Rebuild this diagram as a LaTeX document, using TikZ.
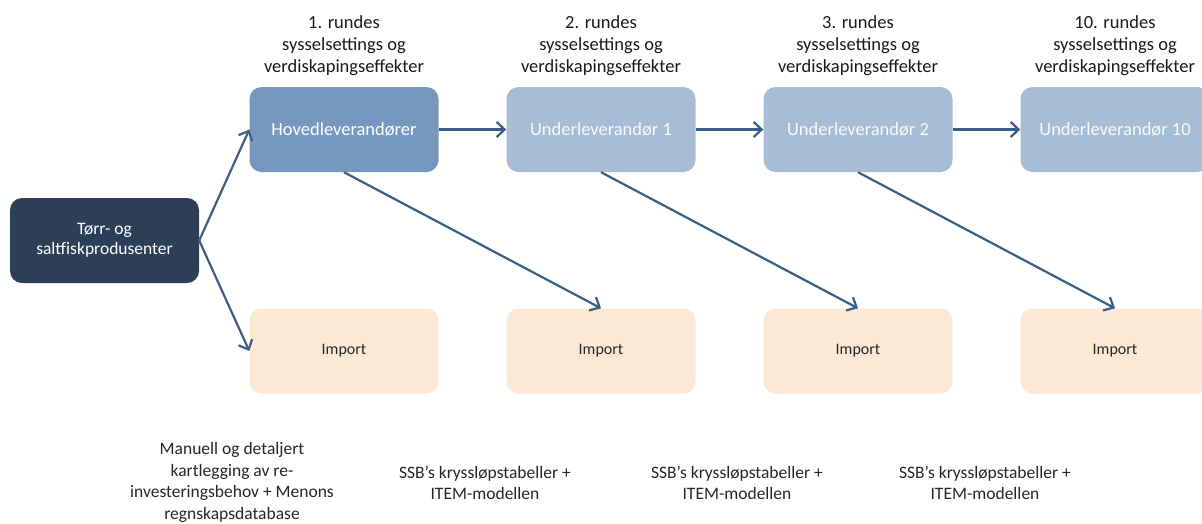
\documentclass[tikz,border=0pt]{standalone}
\usepackage{fontspec}
\setmainfont{Carlito}
\usetikzlibrary{arrows.meta}
\definecolor{navy}{HTML}{2C3F57}
\definecolor{hoved}{HTML}{7698BE}
\definecolor{under}{HTML}{A7BDD6}
\definecolor{impc}{HTML}{FCE9D5}
\definecolor{pilc}{HTML}{3B5E84}
\begin{document}
\begin{tikzpicture}[x=1pt,y=-1pt,
    box/.style={rounded corners=12pt,minimum width=189pt,minimum height=85pt,align=center,inner sep=0pt},
    lbl/.style={align=center,text=black!90,font=\fontsize{18.5}{22}\selectfont},
    kilde/.style={align=center,text=black!85,font=\fontsize{17.5}{21.5}\selectfont},
    pil/.style={-{Straight Barb[length=8pt,width=15pt]},line width=2.2pt,color=pilc}]
    \useasboundingbox (0,0) rectangle (1202,523);
    \node[box,fill=navy,text=white,font=\fontsize{17.5}{20}\selectfont] (prod) at (104.5,240.5) {Tørr- og\\saltfiskprodusenter};
    \node[box,fill=hoved,text=white,font=\fontsize{18.5}{22}\selectfont] (lev1) at (344,129.5) {Hovedleverandører};
    \foreach \i/\x/\n in {2/601/1,3/858/2,4/1115/10}
        \node[box,fill=under,text=white!92!under,font=\fontsize{18.5}{22}\selectfont] (lev\i) at (\x,129.5) {Underleverandør \n};
    \foreach \i/\x in {1/344,2/601,3/858,4/1115}
        \node[box,fill=impc,text=black!85,font=\fontsize{16}{19}\selectfont] (imp\i) at (\x,351) {Import};
    \foreach \i/\x/\n in {1/344/1,2/601/2,3/858/3,4/1115/10}
        \node[lbl] (runde\i) at (\x,46) {\n. rundes\\sysselsettings og\\verdiskapingseffekter};
    \node[kilde] (kilde1) at (232,482.5) {Manuell og detaljert\\kartlegging av re-\\investeringsbehov + Menons\\regnskapsdatabase};
    \foreach \i/\x in {2/485,3/737,4/985}
        \node[kilde] (kilde\i) at (\x,483) {SSB’s kryssløpstabeller +\\ITEM-modellen};
    \draw[pil] (prod.east) -- (lev1.west);
    \draw[pil] (prod.east) -- (imp1.west);
    \draw[pil] (lev1) -- (lev2);
    \draw[pil] (lev2) -- (lev3);
    \draw[pil] (lev3) -- (lev4);
    \draw[pil] (lev1.south) -- (imp2.north);
    \draw[pil] (lev2.south) -- (imp3.north);
    \draw[pil] (lev3.south) -- (imp4.north);
\end{tikzpicture}
\end{document}
